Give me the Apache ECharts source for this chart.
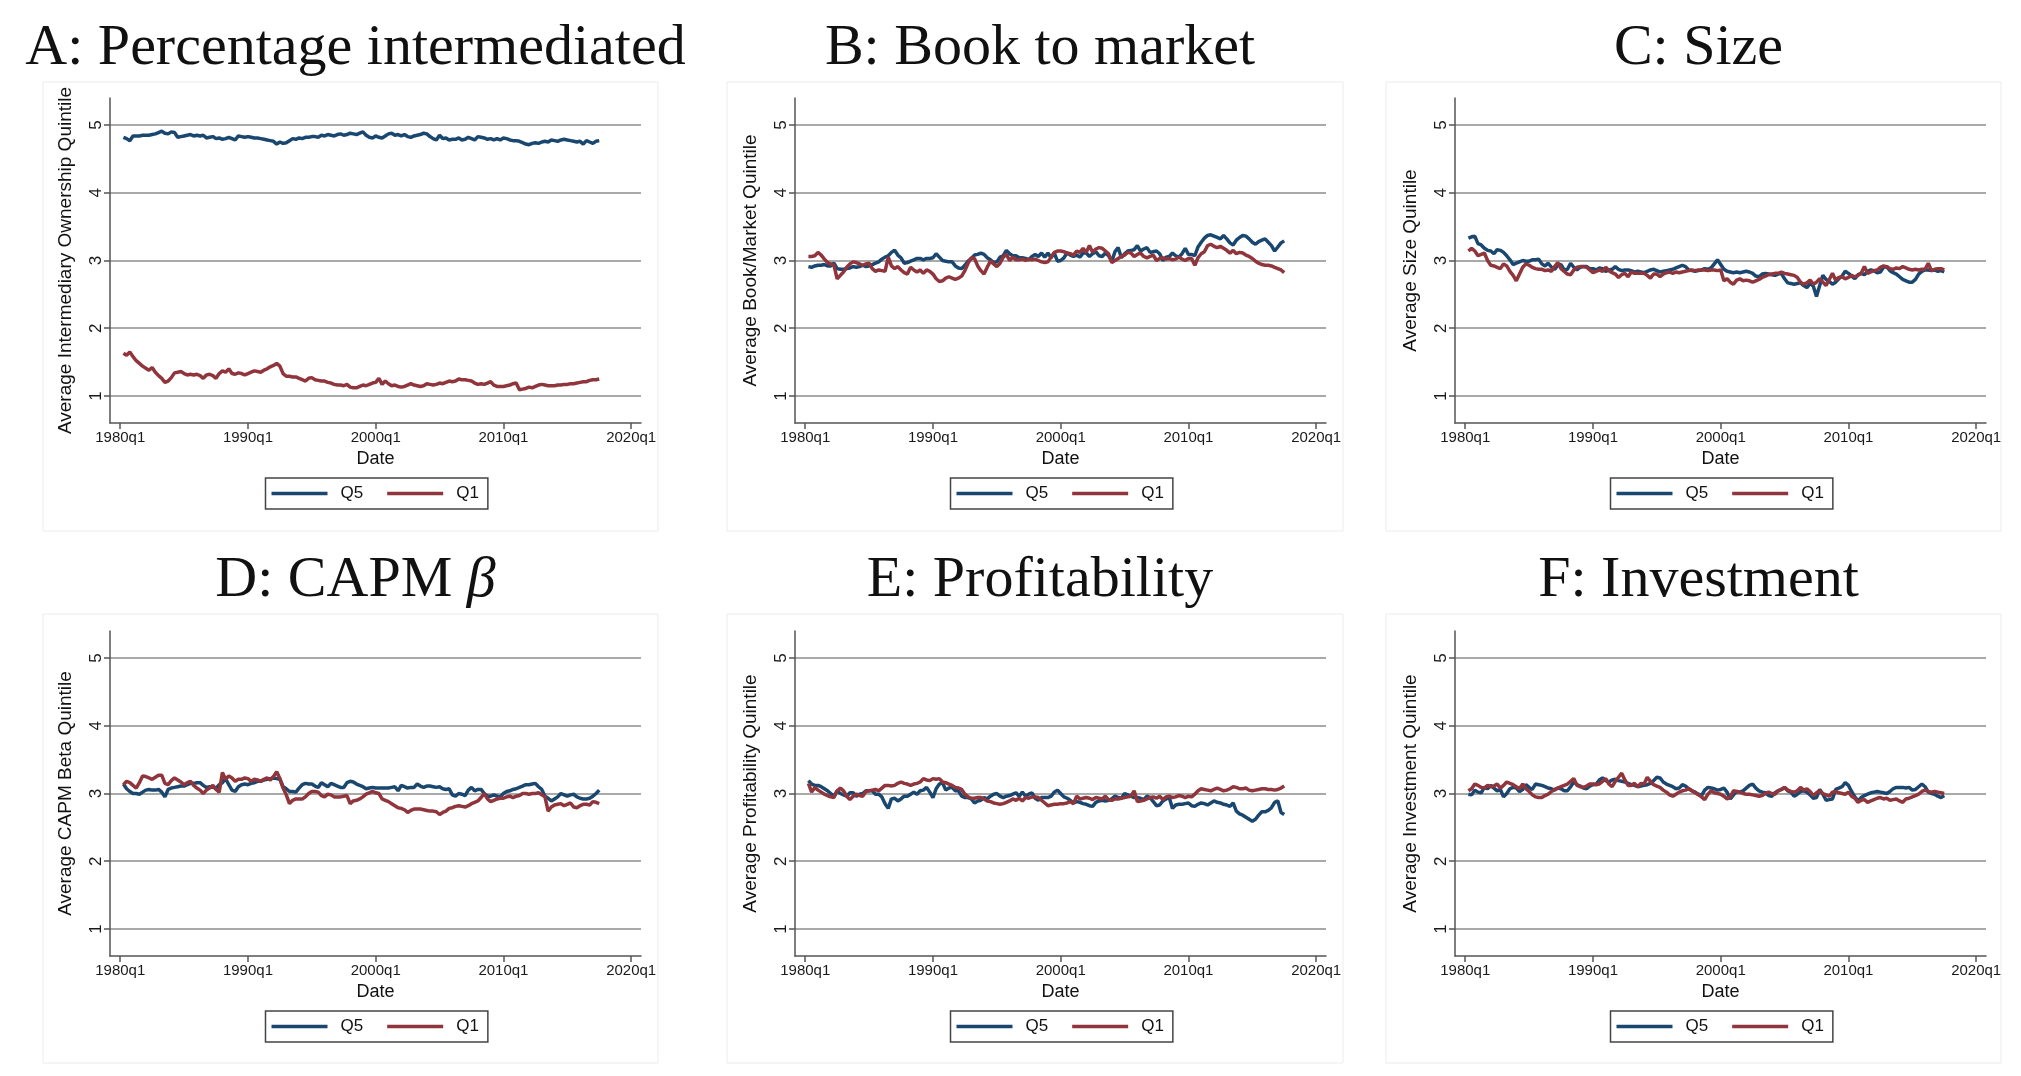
<!DOCTYPE html>
<html><head><meta charset="utf-8">
<script src="https://cdn.jsdelivr.net/npm/echarts@6/dist/echarts.min.js"></script>
<style>html,body{margin:0;padding:0;background:#fff}#c{width:2021px;height:1076px}</style>
</head><body><div id="c"></div>
<script>
// ---- data ----
const START_YEAR = 1980, START_QUARTER = 2;   // first observation 1980q2, quarterly
const xTickYears = [1980, 1990, 2000, 2010, 2020];
const yTickValues = [1, 2, 3, 4, 5];
const seriesNames = ['Q5', 'Q1'];
const panelTitles = ['A: Percentage intermediated', 'B: Book to market', 'C: Size', 'D: CAPM {b|β}', 'E: Profitability', 'F: Investment'];
const yAxisTitles = ['Average Intermediary Ownership Quintile', 'Average Book/Market Quintile', 'Average Size Quintile', 'Average CAPM Beta Quintile', 'Average Profitability Quintile', 'Average Investment Quintile'];

const interQ5 = [4.82,4.80,4.77,
 4.84,4.84,4.84,4.85, 4.85,4.85,4.86,4.87, 4.89,4.91,4.88,4.87, 4.90,4.89,4.82,4.83, 4.84,4.85,4.86,4.84,
 4.85,4.84,4.85,4.81, 4.82,4.83,4.80,4.81, 4.79,4.80,4.82,4.80, 4.78,4.84,4.83,4.82, 4.83,4.82,4.81,4.81,
 4.80,4.79,4.78,4.77, 4.76,4.72,4.75,4.73, 4.74,4.77,4.80,4.79, 4.81,4.80,4.82,4.82, 4.83,4.83,4.82,4.85,
 4.84,4.86,4.85,4.84, 4.86,4.87,4.85,4.86, 4.88,4.87,4.86,4.88, 4.90,4.85,4.82,4.81, 4.84,4.82,4.81,4.84,
 4.87,4.88,4.85,4.86, 4.84,4.86,4.83,4.82, 4.84,4.85,4.86,4.88, 4.87,4.83,4.80,4.78, 4.85,4.80,4.81,4.78,
 4.79,4.79,4.81,4.78, 4.79,4.82,4.80,4.78, 4.83,4.82,4.81,4.79, 4.80,4.78,4.80,4.78, 4.81,4.80,4.78,4.77,
 4.77,4.76,4.74,4.72, 4.71,4.73,4.74,4.73, 4.75,4.76,4.75,4.78, 4.77,4.76,4.78,4.79, 4.78,4.77,4.76,4.75,
 4.76,4.72,4.77,4.75, 4.73,4.76,4.77];
const interQ1 = [1.63,1.60,1.65,
 1.58,1.52,1.48,1.44, 1.41,1.38,1.42,1.35, 1.30,1.26,1.20,1.22, 1.27,1.34,1.35,1.36, 1.33,1.31,1.32,1.31,
 1.32,1.30,1.26,1.31, 1.32,1.30,1.26,1.33, 1.37,1.35,1.40,1.33, 1.32,1.34,1.33,1.31, 1.33,1.35,1.37,1.36,
 1.35,1.38,1.40,1.43, 1.45,1.48,1.44,1.33, 1.29,1.29,1.28,1.28, 1.26,1.24,1.22,1.26, 1.27,1.24,1.23,1.22,
 1.22,1.20,1.19,1.17, 1.16,1.16,1.15,1.17, 1.13,1.12,1.12,1.14, 1.16,1.15,1.17,1.19, 1.20,1.26,1.17,1.22,
 1.18,1.15,1.16,1.14, 1.13,1.14,1.16,1.18, 1.16,1.15,1.14,1.15, 1.18,1.17,1.16,1.17, 1.19,1.18,1.20,1.22,
 1.21,1.22,1.25,1.24, 1.24,1.23,1.22,1.19, 1.17,1.18,1.17,1.19, 1.21,1.16,1.14,1.14, 1.14,1.15,1.16,1.18,
 1.19,1.09,1.10,1.11, 1.13,1.12,1.14,1.16, 1.17,1.16,1.15,1.15, 1.15,1.16,1.16,1.17, 1.17,1.18,1.18,1.19,
 1.20,1.21,1.21,1.23, 1.24,1.24,1.25];

const bmQ5 = [2.91,2.90,2.92,
 2.93,2.93,2.94,2.92, 2.92,2.96,2.88,2.87, 2.87,2.88,2.89,2.91, 2.90,2.91,2.93,2.91, 2.92,2.94,2.96,2.98,
 3.02,3.05,3.07,3.12, 3.15,3.08,3.04,2.96, 2.97,2.99,3.01,3.03, 3.03,3.01,3.03,3.03, 3.04,3.10,3.05,3.00,
 2.99,2.98,2.98,2.92, 2.89,2.88,2.93,2.99, 3.03,3.08,3.09,3.11, 3.09,3.04,3.01,2.97, 2.98,3.05,3.07,3.15,
 3.10,3.07,3.07,3.04, 3.04,3.03,3.01,3.06, 3.09,3.06,3.11,3.05, 3.11,3.04,3.11,2.99, 3.00,3.04,3.11,3.08,
 3.06,3.08,3.05,3.11, 3.11,3.06,3.10,3.13, 3.07,3.06,3.11,3.07, 2.99,3.13,3.19,3.04, 3.10,3.14,3.15,3.16,
 3.22,3.14,3.17,3.19, 3.12,3.13,3.14,3.10, 3.00,3.05,3.06,3.11, 3.07,3.05,3.10,3.18, 3.09,3.09,3.07,3.20,
 3.27,3.33,3.37,3.38, 3.36,3.34,3.32,3.37, 3.32,3.26,3.23,3.30, 3.34,3.37,3.36,3.32, 3.27,3.24,3.28,3.30,
 3.32,3.27,3.22,3.14, 3.20,3.26,3.29];
const bmQ1 = [3.06,3.06,3.07,
 3.12,3.08,3.02,2.97, 2.95,2.93,2.73,2.78, 2.83,2.90,2.95,2.98, 2.97,2.95,2.93,2.95, 2.96,2.88,2.84,2.86,
 2.85,2.84,3.05,2.92, 2.88,2.91,2.86,2.82, 2.80,2.90,2.86,2.83, 2.86,2.81,2.86,2.84, 2.80,2.73,2.69,2.70,
 2.74,2.76,2.74,2.72, 2.74,2.77,2.85,2.96, 3.04,3.03,2.92,2.85, 2.80,2.90,2.99,2.95, 2.91,2.96,3.05,3.09,
 3.00,3.05,3.01,3.01, 3.02,3.00,3.02,3.01, 3.02,3.00,2.98,2.97, 2.98,3.05,3.12,3.14, 3.14,3.13,3.11,3.10,
 3.08,3.14,3.12,3.18, 3.12,3.22,3.12,3.17, 3.19,3.18,3.14,3.10, 2.97,3.00,3.03,3.06, 3.08,3.12,3.11,3.06,
 3.09,3.11,3.06,3.04, 3.06,3.08,3.00,3.03, 3.04,3.02,3.03,3.01, 3.02,3.05,3.02,3.00, 3.03,3.03,2.93,3.04,
 3.10,3.13,3.22,3.24, 3.21,3.19,3.21,3.18, 3.15,3.11,3.15,3.10, 3.12,3.11,3.08,3.06, 3.03,2.99,2.96,2.94,
 2.93,2.93,2.92,2.90, 2.88,2.86,2.82];

const sizeQ5 = [3.33,3.35,3.36,
 3.25,3.23,3.18,3.15, 3.14,3.10,3.16,3.15, 3.12,3.07,3.01,2.94, 2.96,2.98,3.00,2.99, 2.99,3.01,3.01,3.02,
 2.95,2.92,2.96,2.90, 2.87,2.93,2.94,2.86, 2.87,2.96,2.90,2.86, 2.90,2.91,2.91,2.88, 2.88,2.86,2.89,2.88,
 2.84,2.86,2.87,2.91, 2.87,2.85,2.86,2.86, 2.85,2.83,2.84,2.83, 2.82,2.84,2.86,2.87, 2.85,2.83,2.84,2.85,
 2.86,2.87,2.89,2.91, 2.93,2.91,2.86,2.85, 2.84,2.85,2.86,2.88, 2.87,2.89,2.95,3.01, 2.94,2.87,2.84,2.83,
 2.82,2.83,2.82,2.83, 2.84,2.83,2.81,2.77, 2.76,2.80,2.81,2.80, 2.79,2.78,2.80,2.81, 2.73,2.67,2.66,2.65,
 2.66,2.67,2.63,2.60, 2.66,2.62,2.47,2.63, 2.78,2.72,2.69,2.65, 2.68,2.73,2.77,2.84, 2.81,2.77,2.73,2.79,
 2.81,2.79,2.84,2.86, 2.85,2.82,2.83,2.90, 2.91,2.85,2.82,2.80, 2.76,2.72,2.70,2.68, 2.68,2.72,2.80,2.84,
 2.86,2.86,2.85,2.86, 2.84,2.85,2.83];
const sizeQ1 = [3.14,3.18,3.14,
 3.07,3.09,3.11,3.00, 2.93,2.92,2.90,2.88, 2.95,2.92,2.84,2.78, 2.70,2.80,2.90,2.95, 2.93,2.90,2.88,2.87,
 2.87,2.85,2.86,2.84, 2.91,2.97,2.88,2.84, 2.80,2.79,2.86,2.90, 2.91,2.91,2.90,2.86, 2.82,2.84,2.86,2.84,
 2.90,2.85,2.82,2.80, 2.75,2.79,2.81,2.76, 2.83,2.81,2.81,2.81, 2.81,2.78,2.74,2.80, 2.80,2.76,2.80,2.82,
 2.83,2.81,2.83,2.82, 2.83,2.84,2.85,2.86, 2.85,2.86,2.86,2.86, 2.85,2.86,2.86,2.85, 2.86,2.70,2.73,2.68,
 2.65,2.71,2.73,2.70, 2.71,2.70,2.68,2.70, 2.72,2.75,2.77,2.79, 2.80,2.81,2.81,2.83, 2.81,2.80,2.79,2.78,
 2.75,2.68,2.65,2.67, 2.71,2.65,2.68,2.73, 2.68,2.63,2.72,2.81, 2.71,2.75,2.76,2.73, 2.75,2.78,2.76,2.78,
 2.81,2.91,2.81,2.83, 2.85,2.86,2.90,2.92, 2.91,2.88,2.87,2.89, 2.88,2.91,2.89,2.87, 2.86,2.87,2.86,2.87,
 2.87,2.96,2.85,2.87, 2.88,2.88,2.86];

const betaQ5 = [3.14,3.07,3.03,
 3.00,3.00,2.99,3.02, 3.05,3.06,3.05,3.05, 3.06,3.02,2.95,3.06, 3.08,3.09,3.10,3.11, 3.11,3.13,3.15,3.15,
 3.16,3.16,3.12,3.09, 3.10,3.09,3.08,3.13, 3.16,3.22,3.13,3.05, 3.03,3.10,3.13,3.14, 3.13,3.15,3.16,3.18,
 3.18,3.20,3.21,3.22, 3.23,3.22,3.21,3.10, 3.07,3.03,3.03,3.02, 3.08,3.13,3.15,3.14, 3.14,3.11,3.09,3.16,
 3.13,3.10,3.15,3.13, 3.11,3.09,3.09,3.16, 3.18,3.17,3.14,3.12, 3.10,3.07,3.08,3.09, 3.08,3.08,3.08,3.08,
 3.08,3.09,3.10,3.04, 3.12,3.10,3.08,3.09, 3.09,3.14,3.11,3.09, 3.11,3.11,3.10,3.09, 3.10,3.07,3.06,3.07,
 2.98,2.96,3.00,2.99, 2.97,3.05,3.09,3.04, 3.06,3.06,3.00,2.96, 2.96,2.98,2.96,2.95, 3.00,3.03,3.04,3.06,
 3.07,3.09,3.11,3.13, 3.13,3.14,3.15,3.10, 3.06,2.96,2.93,2.89, 2.92,2.95,3.00,2.98, 2.96,2.98,2.99,2.95,
 2.93,2.92,2.92,2.93, 2.96,3.00,3.05];
const betaQ1 = [3.13,3.18,3.16,
 3.12,3.08,3.16,3.26, 3.25,3.23,3.21,3.24, 3.27,3.27,3.15,3.13, 3.19,3.23,3.20,3.17, 3.13,3.16,3.18,3.12,
 3.08,3.05,3.00,3.05, 3.08,3.12,3.06,3.02, 3.31,3.21,3.26,3.23, 3.18,3.21,3.21,3.23, 3.22,3.18,3.21,3.20,
 3.18,3.21,3.23,3.20, 3.25,3.32,3.22,3.08, 2.98,2.85,2.90,2.92, 2.92,2.92,2.95,3.00, 3.03,3.03,3.02,2.97,
 2.95,2.99,2.98,2.95, 2.95,2.95,2.96,2.97, 2.85,2.89,2.90,2.92, 2.95,2.99,3.01,3.03, 3.01,3.00,2.92,2.90,
 2.88,2.85,2.82,2.79, 2.78,2.76,2.72,2.75, 2.77,2.77,2.77,2.76, 2.75,2.74,2.74,2.73, 2.69,2.72,2.74,2.78,
 2.79,2.81,2.82,2.81, 2.80,2.82,2.85,2.87, 2.89,2.94,3.00,2.92, 2.88,2.90,2.92,2.93, 2.93,2.95,2.96,2.94,
 2.96,2.97,3.00,3.00, 2.99,3.00,3.00,3.01, 2.98,2.95,2.74,2.80, 2.83,2.84,2.85,2.82, 2.84,2.86,2.80,2.79,
 2.82,2.84,2.84,2.83, 2.88,2.87,2.85];

const profQ5 = [3.19,3.14,3.12,
 3.12,3.10,3.07,3.04, 3.00,2.96,3.04,3.00, 2.98,2.96,3.01,3.01, 2.96,2.99,3.00,3.04, 3.04,3.04,2.99,2.99,
 2.95,2.85,2.78,2.92, 2.93,2.89,2.92,2.96, 2.96,2.99,3.02,2.99, 3.04,3.05,3.09,3.02, 2.94,3.07,3.14,3.16,
 3.05,3.08,3.09,3.04, 3.04,2.96,2.94,2.94, 2.92,2.86,2.89,2.90, 2.94,2.92,2.96,2.99, 3.00,2.96,2.94,2.96,
 2.97,2.99,3.01,2.96, 3.02,2.96,2.99,3.01, 2.93,2.90,2.94,2.94, 2.94,2.96,3.02,3.05, 3.00,2.95,2.93,2.90,
 2.86,2.88,2.87,2.85, 2.84,2.82,2.81,2.87, 2.89,2.90,2.89,2.90, 2.92,2.96,2.94,2.93, 3.00,2.98,2.96,2.94,
 2.94,2.93,2.91,2.96, 2.94,2.88,2.82,2.83, 2.89,2.92,2.94,2.78, 2.83,2.84,2.84,2.85, 2.86,2.82,2.81,2.84,
 2.86,2.85,2.83,2.86, 2.89,2.87,2.86,2.84, 2.83,2.81,2.86,2.74, 2.70,2.68,2.65,2.62, 2.59,2.62,2.68,2.73,
 2.73,2.75,2.79,2.87, 2.89,2.72,2.69];
const profQ1 = [3.15,3.02,3.09,
 3.05,3.02,2.99,2.97, 2.95,2.94,3.04,3.08, 3.04,2.96,2.91,2.96, 2.99,2.97,2.96,3.03, 3.04,3.05,3.06,3.04,
 3.08,3.12,3.12,3.11, 3.12,3.15,3.17,3.15, 3.14,3.12,3.14,3.15, 3.17,3.22,3.20,3.19, 3.22,3.21,3.22,3.17,
 3.16,3.14,3.12,3.09, 3.08,3.06,2.99,2.95, 2.93,2.93,2.94,2.94, 2.92,2.89,2.88,2.86, 2.85,2.84,2.85,2.87,
 2.89,2.92,2.90,2.93, 2.89,2.94,2.93,2.95, 2.95,2.94,2.90,2.86, 2.82,2.83,2.84,2.84, 2.85,2.85,2.86,2.88,
 2.85,2.96,2.92,2.93, 2.94,2.93,2.91,2.94, 2.93,2.92,2.96,2.91, 2.90,2.92,2.92,2.93, 2.94,2.95,2.96,3.04,
 2.88,2.89,2.90,2.92, 2.94,2.95,2.93,2.96, 2.91,2.95,2.96,2.94, 2.95,2.97,2.96,2.94, 2.96,2.95,2.99,3.04,
 3.07,3.06,3.05,3.04, 3.06,3.08,3.06,3.04, 3.05,3.07,3.10,3.09, 3.07,3.07,3.08,3.05, 3.04,3.05,3.06,3.07,
 3.07,3.06,3.06,3.05, 3.06,3.08,3.11];

const investQ5 = [2.99,2.98,3.05,
 3.02,3.01,3.09,3.07, 3.12,3.08,3.04,3.06, 2.95,3.00,3.07,3.09, 3.08,3.03,3.06,3.13, 3.09,3.06,3.14,3.13,
 3.12,3.10,3.08,3.07, 3.05,3.08,3.07,3.04, 3.04,3.10,3.17,3.13, 3.11,3.08,3.07,3.11, 3.13,3.14,3.20,3.23,
 3.19,3.17,3.20,3.21, 3.19,3.18,3.17,3.15, 3.13,3.12,3.10,3.11, 3.12,3.13,3.15,3.19, 3.24,3.23,3.17,3.14,
 3.12,3.10,3.07,3.08, 3.13,3.11,3.07,3.04, 3.02,2.99,2.97,3.05, 3.09,3.08,3.07,3.05, 3.06,3.08,3.02,2.92,
 2.98,3.03,3.02,3.04, 3.08,3.12,3.14,3.08, 3.04,3.02,3.01,2.97, 2.96,3.01,3.04,3.06, 3.09,3.04,3.02,2.96,
 2.99,3.03,3.04,3.02, 2.98,2.93,2.94,3.06, 2.99,2.90,2.91,2.92, 3.06,3.08,3.10,3.16, 3.12,3.03,2.95,2.89,
 2.94,2.97,2.99,3.01, 3.02,3.03,3.02,3.01, 3.00,3.03,3.07,3.09, 3.09,3.09,3.08,3.09, 3.05,3.06,3.10,3.14,
 3.10,3.02,3.00,2.99, 2.96,2.94,2.97];
const investQ1 = [3.04,3.07,3.14,
 3.12,3.09,3.08,3.12, 3.10,3.11,3.14,3.08, 3.12,3.17,3.15,3.13, 3.10,3.07,3.14,3.07, 3.03,2.98,2.95,2.94,
 2.94,2.97,2.99,3.03, 3.06,3.08,3.10,3.12, 3.14,3.18,3.22,3.12, 3.10,3.09,3.11,3.14, 3.14,3.13,3.14,3.18,
 3.22,3.14,3.10,3.18, 3.24,3.30,3.20,3.12, 3.12,3.15,3.10,3.15, 3.14,3.24,3.18,3.13, 3.11,3.09,3.05,3.02,
 2.98,2.96,2.99,3.02, 3.04,3.05,3.07,3.04, 3.01,2.98,2.95,2.91, 2.99,3.04,3.01,3.00, 2.99,2.96,2.92,2.95,
 3.04,3.03,3.02,3.00, 2.99,2.99,2.98,2.97, 2.96,2.97,3.00,3.02, 3.00,2.99,3.04,3.06, 3.09,3.05,3.03,3.02,
 3.04,3.09,3.05,3.07, 3.03,2.97,3.01,3.04, 3.00,2.98,2.96,3.02, 3.03,3.01,3.00,2.99, 3.02,2.96,2.93,2.87,
 2.90,2.91,2.87,2.89, 2.91,2.93,2.94,2.92, 2.93,2.90,2.91,2.92, 2.89,2.87,2.92,2.93, 2.95,2.97,2.99,3.03,
 3.05,3.03,3.02,3.03, 3.02,3.01,3.00];

const panelQ5 = [interQ5, bmQ5, sizeQ5, betaQ5, profQ5, investQ5];
const panelQ1 = [interQ1, bmQ1, sizeQ1, betaQ1, profQ1, investQ1];

// ---- layout / style ----
const COLORS = {Q5: '#1a476f', Q1: '#90353b'};
const SANS = '"Liberation Sans", Arial, sans-serif';
const SERIF = '"Liberation Serif", "Times New Roman", serif';
const colLeft = [110, 795, 1455];
const colBox = [[43, 658], [727, 1343], [1386, 2001]];
const rowTop = [98, 631];
const rowBoxTop = [82, 614];
const plotW = 531, plotH = 325, boxH = 449;

function quarterX(i) {
  const k = (START_QUARTER - 1) + i;
  const y = START_YEAR + Math.floor(k / 4);
  const q = k % 4;
  return y + q / 4;
}

const grids = [], xAxes = [], yAxes = [], series = [], titles = [], legends = [], graphics = [];
for (let p = 0; p < 6; p++) {
  const c = p % 3, r = Math.floor(p / 3);
  const left = colLeft[c], top = rowTop[r];
  grids.push({left: left, top: top, width: plotW, height: plotH, containLabel: false});
  xAxes.push({
    type: 'value', gridIndex: p, min: 1979.2, max: 2020.77,
    axisLine: {show: true, onZero: false, lineStyle: {color: '#555', width: 1.5}},
    axisTick: {show: true, customValues: xTickYears, length: 6, lineStyle: {color: '#555', width: 1.5}},
    axisLabel: {show: true, customValues: xTickYears, formatter: v => Math.round(v) + 'q1',
      fontSize: 15, color: '#1a1a1a', margin: 7, fontFamily: SANS},
    splitLine: {show: false},
    name: 'Date', nameLocation: 'middle', nameGap: 27,
    nameTextStyle: {fontSize: 18, color: '#111', fontFamily: SANS}
  });
  yAxes.push({
    type: 'value', gridIndex: p, min: 0.6, max: 5.4,
    axisLine: {show: true, onZero: false, lineStyle: {color: '#555', width: 1.5}},
    axisTick: {show: true, customValues: yTickValues, length: 6, lineStyle: {color: '#555', width: 1.5}},
    axisLabel: {show: true, customValues: yTickValues, rotate: 90, fontSize: 17, color: '#1a1a1a', margin: 5, fontFamily: SANS},
    splitLine: {show: true, lineStyle: {color: '#8c8c8c', width: 1.5}},
    name: yAxisTitles[p], nameLocation: 'middle', nameGap: 35,
    nameTextStyle: {fontSize: 19, color: '#111', fontFamily: SANS}
  });
  const dq5 = panelQ5[p].map((v, i) => [quarterX(i), v]);
  const dq1 = panelQ1[p].map((v, i) => [quarterX(i), v]);
  [['Q5', dq5], ['Q1', dq1]].forEach(([nm, d]) => {
    series.push({
      type: 'line', name: nm, xAxisIndex: p, yAxisIndex: p, data: d,
      showSymbol: false, symbol: 'none', animation: false,
      lineStyle: {color: COLORS[nm], width: 3.5}, itemStyle: {color: COLORS[nm]}
    });
  });
  const box = colBox[c];
  const cx = (box[0] + box[1]) / 2;
  titles.push({
    text: panelTitles[p], left: cx, top: rowBoxTop[r] - 67, textAlign: 'center',
    textStyle: {fontFamily: SERIF, fontSize: 58, fontWeight: 'normal', color: '#111',
      rich: {b: {fontFamily: SERIF, fontSize: 58, fontStyle: 'italic', color: '#111'}}}
  });
  const axisCenter = left + plotW / 2;
  legends.push({
    data: seriesNames, orient: 'horizontal', left: axisCenter - 110, top: top + 380,
    icon: 'rect', itemWidth: 56, itemHeight: 3.5, itemGap: 24,
    padding: [7, 9, 7, 6], borderColor: '#444', borderWidth: 1.5, backgroundColor: '#fff',
    textStyle: {fontSize: 17, color: '#111', fontFamily: SANS, padding: [0, 0, 0, 8]},
    selectedMode: false
  });
  graphics.push({
    type: 'rect', silent: true, z: -1,
    shape: {x: box[0], y: rowBoxTop[r], width: box[1] - box[0], height: boxH},
    style: {fill: '#fff', stroke: '#ececec', lineWidth: 1}
  });
}

const chart = echarts.init(document.getElementById('c'), null, {renderer: 'canvas'});
chart.setOption({
  backgroundColor: '#fff',
  animation: false,
  title: titles,
  legend: legends,
  grid: grids,
  xAxis: xAxes,
  yAxis: yAxes,
  series: series,
  graphic: graphics
});
</script>
</body></html>
